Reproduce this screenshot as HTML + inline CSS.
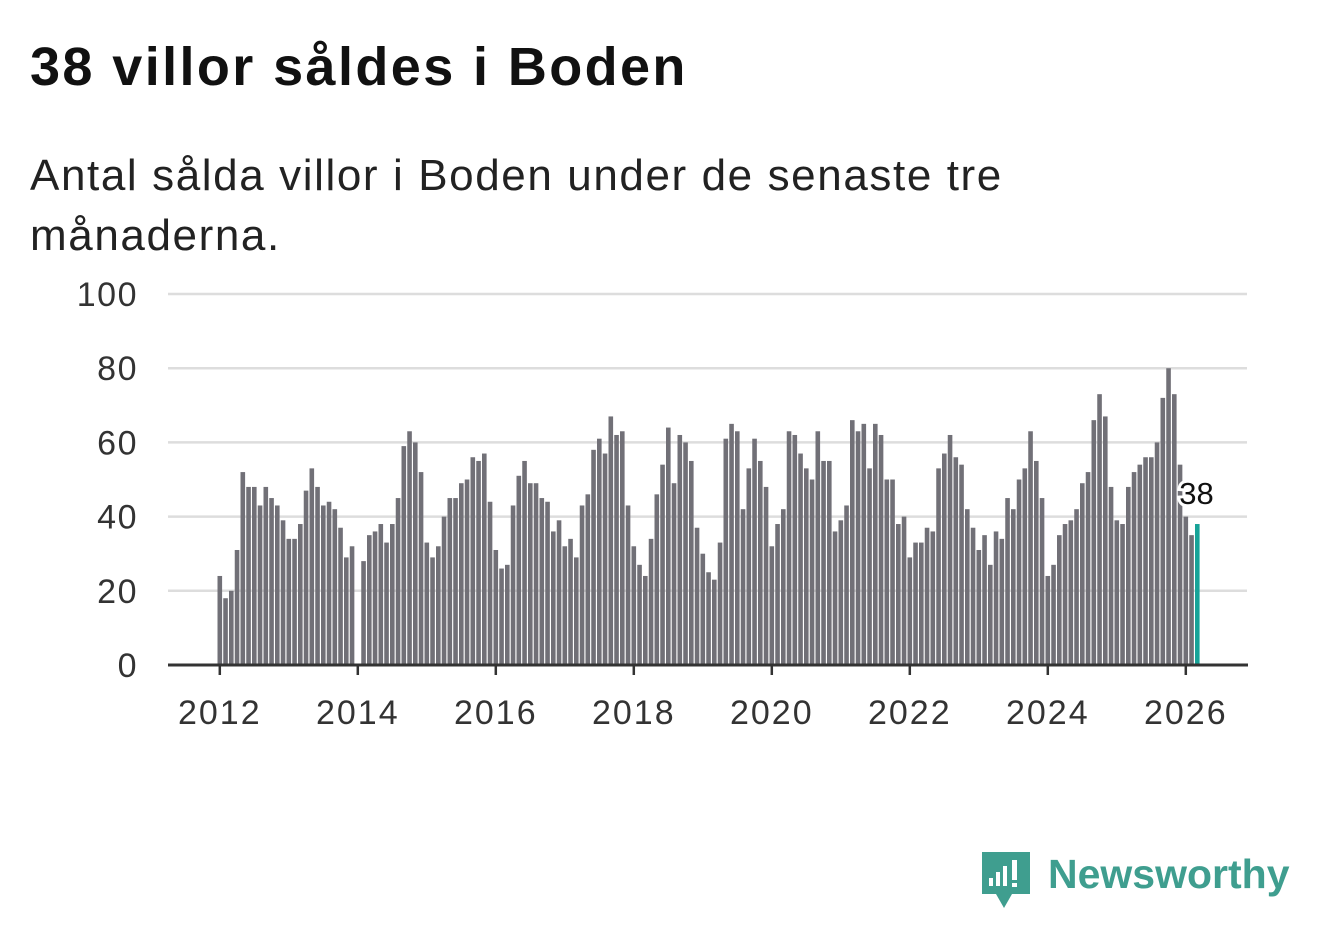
<!DOCTYPE html>
<html><head><meta charset="utf-8"><style>
body{margin:0;background:#fff;width:1322px;height:939px;overflow:hidden;font-family:"Liberation Sans",sans-serif}
#t{position:absolute;left:30px;top:36px;font-size:54px;letter-spacing:2.4px;font-weight:bold;color:#111;margin:0}
#s{position:absolute;left:30px;top:146px;font-size:44px;letter-spacing:1.6px;line-height:60px;color:#222;width:1010px;margin:0}
svg{position:absolute;left:0;top:0}
</style></head><body>
<h1 id="t">38 villor såldes i Boden</h1>
<p id="s">Antal sålda villor i Boden under de senaste tre månaderna.</p>
<svg id="c" width="1322" height="939">
<g id="grid"></g><g id="bars"></g><g id="axes"></g>
<g>
<path d="M982 852 h48 v42 h-18 l-8 14 l-8 -14 h-14 z" fill="#3f9e8f"/>
<rect x="989" y="878" width="4" height="8" fill="#fff"/><rect x="996" y="872" width="4" height="14" fill="#fff"/><rect x="1003" y="866" width="4" height="20" fill="#fff"/><rect x="1012" y="860" width="5" height="20" fill="#fff"/><rect x="1012" y="883" width="5" height="4" fill="#fff"/>
<text x="1048" y="888" font-size="41" font-weight="bold" fill="#3f9e8f" font-family="Liberation Sans, sans-serif">Newsworthy</text>
</g>
</svg>
<script>
const values=[24,18,20,31,52,48,48,43,48,45,43,39,
34,34,38,47,53,48,43,44,42,37,29,32,
null,28,35,36,38,33,38,45,59,63,60,52,
33,29,32,40,45,45,49,50,56,55,57,44,
31,26,27,43,51,55,49,49,45,44,36,39,
32,34,29,43,46,58,61,57,67,62,63,43,
32,27,24,34,46,54,64,49,62,60,55,37,
30,25,23,33,61,65,63,42,53,61,55,48,
32,38,42,63,62,57,53,50,63,55,55,36,
39,43,66,63,65,53,65,62,50,50,38,40,
29,33,33,37,36,53,57,62,56,54,42,37,
31,35,27,36,34,45,42,50,53,63,55,45,
24,27,35,38,39,42,49,52,66,73,67,48,
39,38,48,52,54,56,56,60,72,80,73,54,
40,35,38];
const yTicks=[0,20,40,60,80,100];
const xTicks=[2012,2014,2016,2018,2020,2022,2024,2026];
const startYear=2012;
const NS="http://www.w3.org/2000/svg";
const y=v=>665-v*3.71;
const x=i=>219+i*69/12;
function mk(tag,attrs,parent){const e=document.createElementNS(NS,tag);for(const k in attrs)e.setAttribute(k,attrs[k]);parent.appendChild(e);return e;}
const grid=document.getElementById('grid'),bars=document.getElementById('bars'),axes=document.getElementById('axes');
yTicks.forEach(v=>{
 if(v>0){const l=mk('line',{x1:168,x2:1247,y1:y(v),y2:y(v),stroke:'#ddd','stroke-width':2.5},grid);
 
 }
 const t=mk('text',{x:138,y:y(v)+12,'font-size':34,'letter-spacing':1.5,fill:'#333','text-anchor':'end'},axes);t.textContent=v;
 
 
});
values.forEach((v,i)=>{
 if(v==null)return;
 const last=i===values.length-1;
 const r=mk('rect',{x:x(i)-1.5,y:y(v),width:4.6,height:665-y(v),fill:last?'#17a398':'#717077'},bars);
 
 
});
const li=values.length-1;
const lab=mk('text',{x:x(li),y:y(values[li])-20,'font-size':31,fill:'#111','text-anchor':'middle',stroke:'#fff','stroke-width':6,'paint-order':'stroke'},axes);
lab.textContent=values[li];


const ax=mk('line',{x1:168,x2:1248,y1:665,y2:665,stroke:'#333','stroke-width':3},axes);


xTicks.forEach(yr=>{
 const xx=x((yr-startYear)*12)+0.8;
 mk('line',{x1:xx,x2:xx,y1:665,y2:675,stroke:'#333','stroke-width':2.5},axes);
 const t=mk('text',{x:xx,y:724,'font-size':34,'letter-spacing':2,fill:'#333','text-anchor':'middle'},axes);t.textContent=yr;
 
 
});
</script>
</body></html>
